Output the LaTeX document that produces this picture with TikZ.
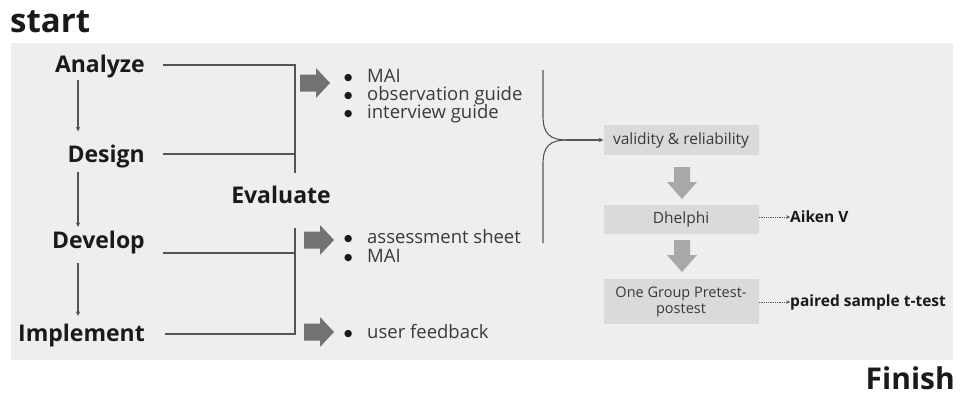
\documentclass[tikz,border=0pt]{standalone}
\usepackage{fontspec}
\setmainfont{Open Sans}
\newfontfamily\dotfont{DejaVu Sans}
\usetikzlibrary{arrows.meta,calc}
\definecolor{panel}{HTML}{EEEEEE}
\definecolor{boxfill}{HTML}{DADADA}
\definecolor{linegray}{HTML}{555555}
\definecolor{bigarrow}{HTML}{727272}
\definecolor{downarrow}{HTML}{A8A8A8}
\definecolor{ink}{HTML}{1A1A1A}
\definecolor{softink}{HTML}{3A3A3A}
\newcommand\bul{\makebox[23pt][l]{\raisebox{1.5pt}{\dotfont\fontsize{9.5}{10}\selectfont\color{ink}●}}}
\tikzset{
  phase/.style={font=\bfseries\fontsize{23}{25}\selectfont, text=ink, inner sep=0pt, anchor=base east},
  heading/.style={text=ink, inner sep=0pt},
  itemline/.style={font=\fontsize{18.5}{19}\selectfont, text=softink, inner sep=0pt, anchor=base west},
  stagebox/.style={fill=boxfill, minimum width=155pt, text=softink, font=\fontsize{15.5}{16.5}\selectfont, inner sep=1pt, align=center},
  result/.style={font=\bfseries\fontsize{15.5}{17}\selectfont, text=ink, inner sep=0pt, anchor=west},
  bracket/.style={draw=linegray, line width=1.3pt},
  stepline/.style={draw=linegray, line width=1.1pt, -{Stealth[length=4.5pt,width=4.5pt]}},
  dotline/.style={draw=linegray, line width=0.8pt, densely dotted, -{Stealth[length=3.5pt,width=3.5pt]}},
}
\begin{document}
\begin{tikzpicture}[x=1pt,y=-1pt]
\useasboundingbox (0,0) rectangle (960,396);
% background panel
\fill[panel] (11,43) rectangle (953,360);

% headings
\node[heading, font=\bfseries\fontsize{33}{36}\selectfont, anchor=base west] (start) at (10,33) {start};
\node[heading, font=\bfseries\fontsize{30}{34}\selectfont, anchor=base east] (finish) at (955,389) {Finish};

% ADDIE phases
\node[phase] (an) at (145,73) {Analyze};
\node[phase] (de) at (145,162) {Design};
\node[phase] (dv) at (145,248) {Develop};
\node[phase] (im) at (145,341) {Implement};
\node[phase, anchor=base] (ev) at (281,203) {Evaluate};

% phase-to-phase arrows
\coordinate (ax) at (78,0);
\draw[stepline] ([yshift=-1.5pt]an.south -| ax) -- ([yshift=13pt]de.north -| ax);
\draw[stepline] ([yshift=-4.5pt]de.south -| ax) -- ([yshift=3.5pt]dv.north -| ax);
\draw[stepline] ([yshift=-9.5pt]dv.south -| ax) -- ([yshift=7.5pt]im.north -| ax);

% brackets into Evaluate
\coordinate (bt) at (295,65);
\coordinate (bb) at (295,173);
\coordinate (ct) at (295,228);
\coordinate (cb) at (295,334);
\draw[bracket] ([xshift=18pt]an.east |- bt) -- (bt) -- (bb);
\draw[bracket] ([xshift=18pt]de.east |- 0,154) -- (295,154);
\draw[bracket] ([xshift=18pt]dv.east |- 0,253) -- (295,253);
\draw[bracket] (ct) -- (cb) -- ([xshift=20pt]im.east |- cb);

% block arrows
\foreach \n/\x/\y in {ba1/300/83, ba2/304/240, ba3/304/332}{
  \fill[bigarrow] (\x,\y-8.5) -- (\x+16,\y-8.5) -- (\x+16,\y-15) -- (\x+30,\y)
    -- (\x+16,\y+15) -- (\x+16,\y+8.5) -- (\x,\y+8.5) -- cycle;
  \coordinate (\n) at (\x+30,\y);
}

% instrument lists
\node[itemline] (l1a) at (344,82) {\bul MAI};
\node[itemline] (l1b) at (344,100) {\bul observation guide};
\node[itemline] (l1c) at (344,118) {\bul interview guide};
\node[itemline] (l2a) at (344,243) {\bul assessment sheet};
\node[itemline] (l2b) at (344,262) {\bul MAI};
\node[itemline] (l3a) at (344,338) {\bul user feedback};

% validation flow
\node[stagebox, minimum height=30pt] (vr) at (681,140) {validity \& reliability};
\node[stagebox, minimum height=29pt] (dh) at (681,219.5) {Dhelphi};
\node[stagebox, minimum height=45pt, font=\fontsize{14.5}{16}\selectfont] (og) at (681,301.5) {One Group Pretest-\\postest};

% merging curves into validity box
\coordinate (merge) at (567,140);
\draw[bracket, line width=1.1pt] (543,70) -- (543,116) .. controls (543,134) and (550,140) .. (merge);
\draw[bracket, line width=1.1pt] (543,243) -- (543,164) .. controls (543,146) and (550,140) .. (merge);
\draw[stepline] (merge) -- (vr.west);

% down arrows between stages
\foreach \n/\y in {da1/167, da2/240}{
  \fill[downarrow] (674,\y) -- (690,\y) -- (690,\y+15) -- (697,\y+15) -- (682,\y+32)
    -- (667,\y+15) -- (674,\y+15) -- cycle;
  \coordinate (\n) at (682,\y);
}

% analysis results
\node[result] (ai) at (790,217) {Aiken V};
\node[result] (pt) at (790,302) {paired sample t-test};
\draw[dotline] (dh.east |- ai.west) -- (ai.west);
\draw[dotline] (og.east |- pt.west) -- (pt.west);
\end{tikzpicture}
\end{document}
